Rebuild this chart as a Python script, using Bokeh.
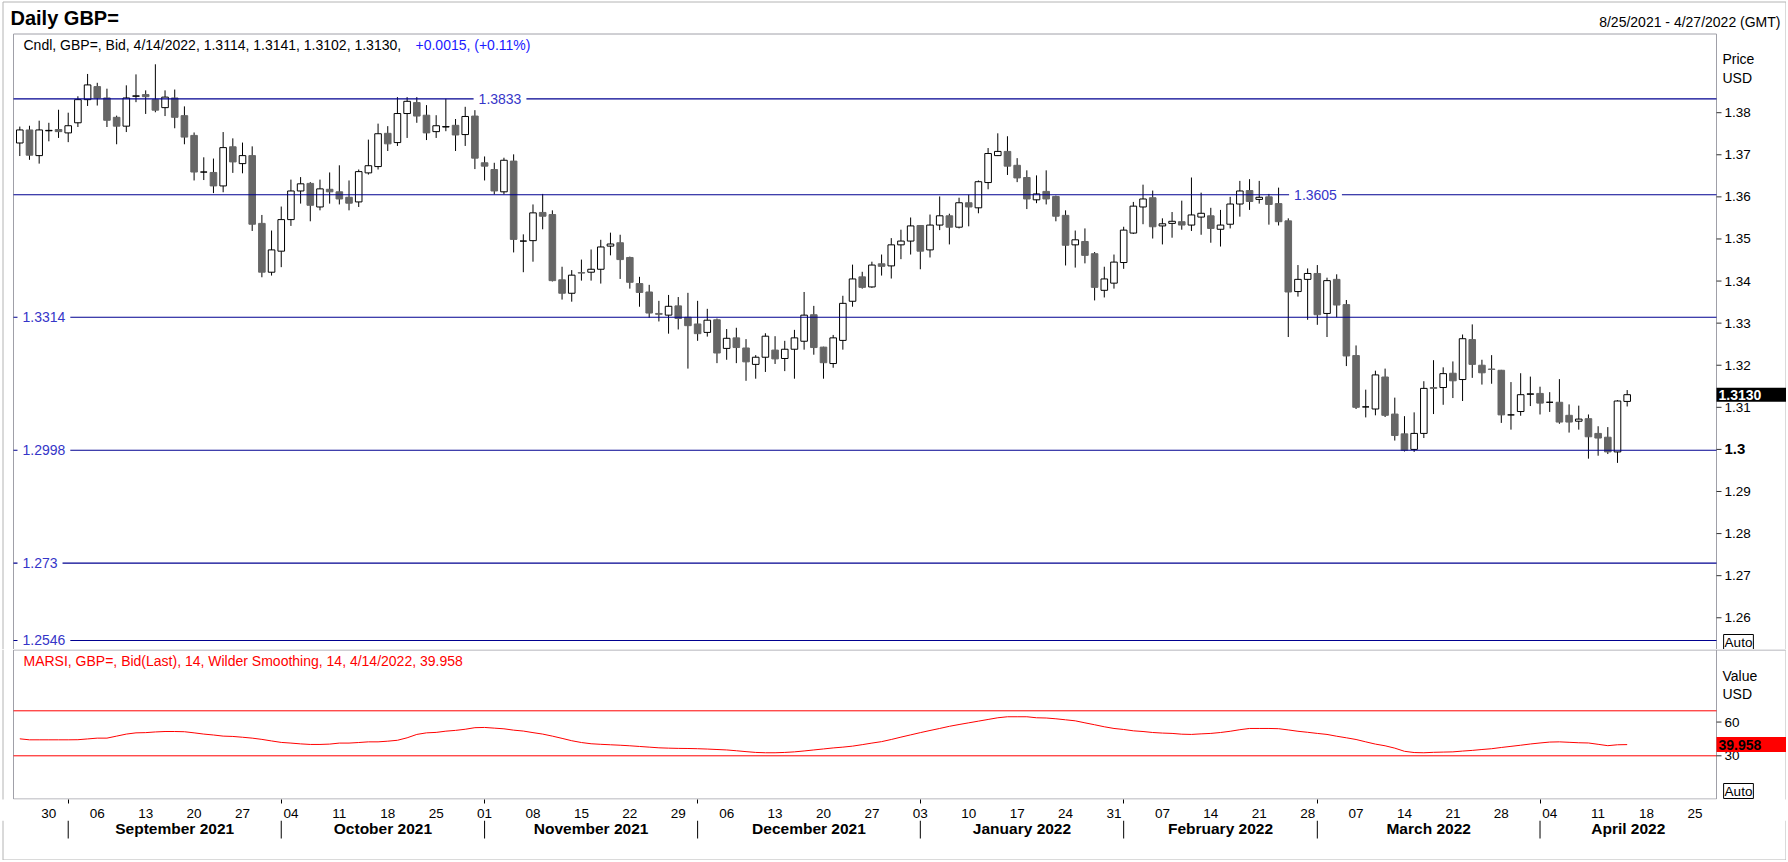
import numpy as np
import pandas as pd
from bokeh.plotting import figure
from bokeh.models import Range1d, Label, FixedTicker, ColumnDataSource
from bokeh.layouts import column
from bokeh.embed import file_html
from bokeh.resources import INLINE
from bokeh.core.properties import value

FONT = "Liberation Sans"

# ---------------- data ----------------
dates = pd.bdate_range("2021-08-25", "2022-04-14")       # trading days with candles
axis_dates = pd.bdate_range("2021-08-25", "2022-04-27")  # chart window

open_ = [
    1.3728, 1.3759, 1.3698, 1.3757, 1.3760, 1.3752, 1.3776, 1.3831, 1.3862, 1.3835,
    1.3789, 1.3768, 1.3839, 1.3843, 1.3831, 1.3812, 1.3835, 1.3793, 1.3746, 1.3659,
    1.3658, 1.3626, 1.3719, 1.3679, 1.3698, 1.3537, 1.3421, 1.3471, 1.3546, 1.3614,
    1.3632, 1.3576, 1.3618, 1.3612, 1.3599, 1.3588, 1.3657, 1.3672, 1.3751, 1.3729,
    1.3798, 1.3824, 1.3794, 1.3755, 1.3766, 1.3770, 1.3748, 1.3792, 1.3681, 1.3665,
    1.3612, 1.3685, 1.3495, 1.3496, 1.3563, 1.3558, 1.3403, 1.3371, 1.3420, 1.3421,
    1.3428, 1.3483, 1.3491, 1.3456, 1.3394, 1.3374, 1.3323, 1.3319, 1.3341, 1.3314,
    1.3298, 1.3278, 1.3308, 1.3240, 1.3265, 1.3241, 1.3202, 1.3219, 1.3236, 1.3216,
    1.3238, 1.3257, 1.3320, 1.3243, 1.3204, 1.3259, 1.3352, 1.3410, 1.3386, 1.3441,
    1.3436, 1.3486, 1.3495, 1.3532, 1.3474, 1.3533, 1.3555, 1.3528, 1.3586, 1.3574,
    1.3634, 1.3698, 1.3708, 1.3675, 1.3646, 1.3593, 1.3613, 1.3601, 1.3556, 1.3486,
    1.3494, 1.3465, 1.3378, 1.3395, 1.3444, 1.3514, 1.3576, 1.3598, 1.3531, 1.3537,
    1.3541, 1.3533, 1.3552, 1.3555, 1.3523, 1.3535, 1.3583, 1.3615, 1.3594, 1.3600,
    1.3584, 1.3543, 1.3375, 1.3404, 1.3418, 1.3323, 1.3404, 1.3344, 1.3223, 1.3101,
    1.3096, 1.3172, 1.3084, 1.3037, 1.3000, 1.3038, 1.3147, 1.3147, 1.3181, 1.3166,
    1.3261, 1.3200, 1.3191, 1.3188, 1.3082, 1.3090, 1.3131, 1.3133, 1.3112, 1.3112,
    1.3081, 1.3067, 1.3073, 1.3038, 1.3029, 1.2994, 1.3114,
]
high = [
    1.3767, 1.3769, 1.3781, 1.3776, 1.3807, 1.3800, 1.3839, 1.3892, 1.3871, 1.3857,
    1.3793, 1.3865, 1.3891, 1.3853, 1.3915, 1.3853, 1.3855, 1.3815, 1.3753, 1.3694,
    1.3691, 1.3754, 1.3739, 1.3729, 1.3720, 1.3557, 1.3520, 1.3577, 1.3641, 1.3647,
    1.3635, 1.3641, 1.3658, 1.3675, 1.3639, 1.3665, 1.3736, 1.3774, 1.3768, 1.3837,
    1.3837, 1.3837, 1.3818, 1.3794, 1.3833, 1.3785, 1.3814, 1.3806, 1.3696, 1.3681,
    1.3693, 1.3701, 1.3511, 1.3582, 1.3607, 1.3568, 1.3434, 1.3426, 1.3451, 1.3475,
    1.3498, 1.3515, 1.3510, 1.3458, 1.3410, 1.3391, 1.3353, 1.3367, 1.3362, 1.3372,
    1.3353, 1.3334, 1.3311, 1.3286, 1.3289, 1.3262, 1.3224, 1.3276, 1.3269, 1.3258,
    1.3284, 1.3374, 1.3341, 1.3244, 1.3272, 1.3365, 1.3439, 1.3422, 1.3446, 1.3463,
    1.3502, 1.3522, 1.3551, 1.3533, 1.3558, 1.3601, 1.3560, 1.3598, 1.3605, 1.3639,
    1.3716, 1.3751, 1.3744, 1.3692, 1.3663, 1.3651, 1.3663, 1.3603, 1.3568, 1.3520,
    1.3525, 1.3469, 1.3434, 1.3463, 1.3529, 1.3588, 1.3629, 1.3615, 1.3549, 1.3564,
    1.3591, 1.3646, 1.3610, 1.3574, 1.3569, 1.3600, 1.3638, 1.3642, 1.3638, 1.3607,
    1.3622, 1.3549, 1.3438, 1.3430, 1.3438, 1.3408, 1.3416, 1.3355, 1.3247, 1.3142,
    1.3187, 1.3192, 1.3123, 1.3079, 1.3088, 1.3162, 1.3212, 1.3195, 1.3209, 1.3273,
    1.3297, 1.3213, 1.3224, 1.3189, 1.3160, 1.3181, 1.3173, 1.3149, 1.3136, 1.3167,
    1.3107, 1.3104, 1.3083, 1.3055, 1.3053, 1.3117, 1.3141,
]
low = [
    1.3697, 1.3688, 1.3679, 1.3732, 1.3740, 1.3730, 1.3766, 1.3816, 1.3817, 1.3766,
    1.3725, 1.3754, 1.3825, 1.3797, 1.3801, 1.3792, 1.3763, 1.3725, 1.3639, 1.3640,
    1.3609, 1.3611, 1.3657, 1.3656, 1.3519, 1.3409, 1.3413, 1.3433, 1.3531, 1.3584,
    1.3542, 1.3568, 1.3584, 1.3582, 1.3568, 1.3576, 1.3653, 1.3665, 1.3709, 1.3721,
    1.3740, 1.3776, 1.3735, 1.3740, 1.3756, 1.3709, 1.3721, 1.3666, 1.3639, 1.3606,
    1.3606, 1.3468, 1.3421, 1.3446, 1.3523, 1.3399, 1.3356, 1.3351, 1.3401, 1.3401,
    1.3394, 1.3461, 1.3405, 1.3382, 1.3339, 1.3313, 1.3304, 1.3275, 1.3285, 1.3192,
    1.3258, 1.3268, 1.3205, 1.3213, 1.3205, 1.3163, 1.3168, 1.3184, 1.3203, 1.3186,
    1.3168, 1.3237, 1.3225, 1.3168, 1.3194, 1.3237, 1.3339, 1.3382, 1.3384, 1.3413,
    1.3406, 1.3452, 1.3463, 1.3428, 1.3456, 1.3521, 1.3487, 1.3525, 1.3530, 1.3561,
    1.3618, 1.3697, 1.3652, 1.3635, 1.3571, 1.3585, 1.3582, 1.3542, 1.3437, 1.3432,
    1.3442, 1.3354, 1.3361, 1.3382, 1.3429, 1.3512, 1.3535, 1.3501, 1.3487, 1.3503,
    1.3522, 1.3519, 1.3510, 1.3491, 1.3482, 1.3525, 1.3553, 1.3569, 1.3584, 1.3534,
    1.3532, 1.3267, 1.3363, 1.3308, 1.3296, 1.3267, 1.3314, 1.3198, 1.3096, 1.3076,
    1.3081, 1.3077, 1.3021, 1.2995, 1.2994, 1.3027, 1.3084, 1.3106, 1.3122, 1.3115,
    1.3170, 1.3154, 1.3156, 1.3063, 1.3047, 1.3080, 1.3103, 1.3083, 1.3089, 1.3061,
    1.3040, 1.3047, 1.2978, 1.2985, 1.2989, 1.2968, 1.3102,
]
close = [
    1.3759, 1.3699, 1.3759, 1.3758, 1.3755, 1.3769, 1.3831, 1.3866, 1.3835, 1.3782,
    1.3768, 1.3835, 1.3840, 1.3838, 1.3806, 1.3837, 1.3789, 1.3742, 1.3659, 1.3659,
    1.3626, 1.3717, 1.3683, 1.3698, 1.3535, 1.3421, 1.3474, 1.3546, 1.3614, 1.3631,
    1.3580, 1.3619, 1.3612, 1.3595, 1.3585, 1.3660, 1.3674, 1.3750, 1.3726, 1.3798,
    1.3827, 1.3792, 1.3752, 1.3769, 1.3767, 1.3747, 1.3791, 1.3692, 1.3673, 1.3614,
    1.3687, 1.3499, 1.3495, 1.3562, 1.3554, 1.3401, 1.3371, 1.3414, 1.3419, 1.3428,
    1.3481, 1.3488, 1.3451, 1.3397, 1.3373, 1.3324, 1.3321, 1.3340, 1.3311, 1.3294,
    1.3275, 1.3307, 1.3229, 1.3264, 1.3242, 1.3208, 1.3219, 1.3269, 1.3215, 1.3238,
    1.3265, 1.3319, 1.3242, 1.3206, 1.3265, 1.3347, 1.3405, 1.3385, 1.3438, 1.3435,
    1.3486, 1.3495, 1.3531, 1.3471, 1.3533, 1.3555, 1.3528, 1.3586, 1.3576, 1.3636,
    1.3703, 1.3708, 1.3673, 1.3645, 1.3595, 1.3607, 1.3595, 1.3554, 1.3485, 1.3498,
    1.3461, 1.3385, 1.3405, 1.3445, 1.3521, 1.3578, 1.3595, 1.3529, 1.3536, 1.3542,
    1.3533, 1.3557, 1.3561, 1.3525, 1.3533, 1.3583, 1.3614, 1.3589, 1.3599, 1.3582,
    1.3541, 1.3374, 1.3404, 1.3418, 1.3320, 1.3401, 1.3343, 1.3222, 1.3100, 1.3101,
    1.3177, 1.3081, 1.3033, 1.2998, 1.3038, 1.3145, 1.3145, 1.3180, 1.3163, 1.3263,
    1.3202, 1.3182, 1.3190, 1.3082, 1.3082, 1.3130, 1.3132, 1.3110, 1.3112, 1.3065,
    1.3065, 1.3072, 1.3030, 1.3027, 1.2994, 1.3115, 1.3130,
]
rsi = [
    45.1, 44.2, 44.2, 44.2, 44.2, 44.2, 44.3, 45.0, 45.7, 45.7,
    47.5, 49.3, 50.4, 50.6, 51.2, 51.6, 51.6, 51.4, 50.4, 49.3,
    48.5, 47.5, 47.2, 46.5, 45.7, 44.6, 43.2, 41.9, 41.3, 40.6,
    40.1, 40.1, 40.4, 41.3, 41.3, 41.8, 42.4, 42.4, 43.0, 43.8,
    46.0, 49.0, 50.4, 50.8, 51.9, 52.6, 53.6, 55.0, 55.2, 54.6,
    54.0, 52.8, 52.0, 50.6, 49.3, 47.5, 45.5, 43.4, 41.8, 40.7,
    40.2, 39.8, 39.4, 38.9, 38.3, 37.7, 37.1, 36.8, 36.6, 36.5,
    36.3, 36.0, 35.6, 35.2, 34.5, 33.7, 33.0, 32.7, 32.7, 33.0,
    33.5, 34.3, 35.2, 36.1, 37.0, 37.7, 38.6, 39.9, 41.3, 42.6,
    44.5, 46.6, 48.6, 50.6, 52.5, 54.3, 56.2, 57.8, 59.3, 60.8,
    62.3, 63.8, 64.7, 64.7, 64.7, 63.8, 63.6, 62.9, 62.0, 61.1,
    59.3, 57.6, 55.8, 54.3, 53.4, 52.2, 51.6, 50.7, 50.2, 49.9,
    49.2, 49.0, 49.5, 49.9, 50.7, 51.8, 53.2, 54.3, 54.3, 54.3,
    54.1, 53.0, 51.8, 50.9, 49.9, 49.0, 47.4, 46.0, 44.5, 42.4,
    40.4, 38.9, 36.8, 34.0, 32.9, 32.7, 33.1, 33.3, 33.5, 34.2,
    34.8, 35.6, 36.3, 37.4, 38.4, 39.4, 40.5, 41.4, 42.2, 42.4,
    42.0, 41.6, 41.4, 40.2, 39.0, 39.8, 39.958,
]
levels = [1.3833, 1.3605, 1.3314, 1.2998, 1.273, 1.2546]
level_text = ["1.3833", "1.3605", "1.3314", "1.2998", "1.273", "1.2546"]
price_ticks = [1.26, 1.27, 1.28, 1.29, 1.30, 1.31, 1.32, 1.33, 1.34, 1.35, 1.36, 1.37, 1.38]
rsi_ticks = [30, 60]
rsi_bands = [70, 30]

# ---------------- layout helpers (reference pixel -> data) ----------------
W = 1786
PX_PRICE = 4209.0   # pixels per price unit
PX_RSI = 1.125      # pixels per RSI unit


def xr(px):
    return (px - 19.3) / 9.683


def py(px):
    return 1.3833 + (98.3 - px) / PX_PRICE


def ry(px):
    return 30 + (755.3 - px) / PX_RSI


XL, XR = xr(13), xr(1716)
OUTLINE = "#a0a0a8"
BORDER = "#b4b4b4"
LEVEL_LINE = "#000090"
LEVEL_TEXT = "#3535c8"
TICK = "#303030"


def base_fig(height, y_range, **kw):
    p = figure(width=W, height=height, x_range=xrange, y_range=y_range,
               output_backend="svg", toolbar_location=None, tools="",
               y_axis_location=None, min_border_left=0, min_border_right=0,
               min_border_top=0, **kw)
    p.grid.visible = False
    p.outline_line_color = None
    p.background_fill_color = "white"
    p.border_fill_color = "white"
    return p


def lab(p, x, y, text, size="14px", color="black", bold=False, align="left",
        baseline="middle", **kw):
    l = Label(x=x, y=y, text=text, text_font=FONT, text_font_size=size,
              text_color=color, text_font_style="bold" if bold else "normal",
              text_align=align, text_baseline=baseline, **kw)
    p.add_layout(l)
    return l


def tfont(p, xs, ys, texts, size="13.5px", color="black", **kw):
    p.text(x=xs, y=ys, text=texts, text_font=value(FONT), text_font_size=size,
           text_baseline="middle", text_color=color, **kw)


xrange = Range1d(xr(0), xr(W))

x = list(range(len(dates)))
up = [c >= o for o, c in zip(open_, close)]
src = ColumnDataSource(dict(
    x=x, h=high, l=low,
    top=[max(o, c) for o, c in zip(open_, close)],
    bot=[min(o, c) for o, c in zip(open_, close)],
    fill=["white" if u else "#666666" for u in up],
    line=["black" if u else "#666666" for u in up],
))

# ---------------- price pane ----------------
p1 = base_fig(649, Range1d(py(649), py(0)), x_axis_location=None, min_border_bottom=0)

# outer page border and chart frame
p1.segment(x0=[xr(2.5), xr(2.5), xr(1785.5)], y0=[py(1.5), py(1.5), py(1.5)],
           x1=[xr(2.5), xr(1785.5), xr(1785.5)], y1=[py(649), py(1.5), py(649)],
           line_color=BORDER, line_width=1)
p1.segment(x0=[XL, XL, XR], y0=[py(33.5), py(33.5), py(33.5)], x1=[XL, XR, XR],
           y1=[py(649), py(33.5), py(649)], line_color=OUTLINE, line_width=1)

# candles
p1.segment(x0="x", y0="l", x1="x", y1="h", line_color="black", line_width=1, source=src)
p1.vbar(x="x", width=0.68, top="top", bottom="bot", fill_color="fill",
        line_color="line", line_width=1, source=src)

# horizontal levels
p1.segment(x0=[XL] * len(levels), y0=levels, x1=[XR] * len(levels), y1=levels,
           line_color=LEVEL_LINE, line_width=1.2)
level_pos = [xr(499.5), xr(1315), xr(17), xr(17), xr(17), xr(17)]
for lv, txt, lx in zip(levels, level_text, level_pos):
    lab(p1, lx, lv, txt, size="14px", color=LEVEL_TEXT,
        align="center" if lx > 10 else "left",
        background_fill_color="white",
        padding=dict(left=5, right=5, top=0, bottom=0))

# price scale (right)
p1.segment(x0=[XR] * len(price_ticks), y0=price_ticks, x1=[xr(1721)] * len(price_ticks),
           y1=price_ticks, line_color=TICK, line_width=1)
plain = [t for t in price_ticks if abs(t - 1.30) > 1e-9]
tfont(p1, [xr(1724)] * len(plain), plain, [f"{t:.2f}" for t in plain])
tfont(p1, [xr(1724)], [1.30], ["1.3"], size="15px", text_font_style="bold")

# last price tag
last_c = close[-1]
half_p = 7.0 / PX_PRICE
p1.quad(left=[XR], right=[xr(1790)], bottom=[last_c - half_p], top=[last_c + half_p],
        fill_color="black", line_color=None)
tfont(p1, [xr(1718)], [last_c], [f"{last_c:.4f}"], size="14px", color="white",
      text_font_style="bold")

# texts
lab(p1, xr(10), py(17), "Daily GBP=", size="20px", bold=True)
lab(p1, xr(1780), py(21), "8/25/2021 - 4/27/2022 (GMT)", size="14px", align="right")
lab(p1, xr(23), py(44.5), "Cndl, GBP=, Bid, 4/14/2022, 1.3114, 1.3141, 1.3102, 1.3130,", size="14px")
lab(p1, xr(415), py(44.5), "+0.0015, (+0.11%)", size="14px", color="#1a1aff")
lab(p1, xr(1722), py(58.5), "Price", size="14px")
lab(p1, xr(1722), py(77), "USD", size="14px")
lab(p1, xr(1738), py(641.5), "Auto", size="13.5px", align="center",
    background_fill_color="white", border_line_color="black",
    padding=dict(left=1, right=1, top=0, bottom=0))

# ---------------- RSI pane ----------------
p2 = base_fig(171, Range1d(ry(799), ry(649)), x_axis_location="below", min_border_bottom=21)

p2.segment(x0=[xr(2.5), xr(1785.5)], y0=[ry(649), ry(649)], x1=[xr(2.5), xr(1785.5)],
           y1=[ry(820), ry(820)], line_color=BORDER, line_width=1)
p2.segment(x0=[XL, XL, XR, XL], y0=[ry(649.5), ry(649.5), ry(649.5), ry(798.5)],
           x1=[xr(1785), XL, XR, XR], y1=[ry(649.5), ry(798.5), ry(798.5), ry(798.5)],
           line_color=OUTLINE, line_width=1)

p2.segment(x0=[XL] * 2, y0=rsi_bands, x1=[XR] * 2, y1=rsi_bands, line_color="#ff0000", line_width=1)
p2.line(x=list(range(len(rsi))), y=rsi, line_color="#ff0000", line_width=1)

p2.segment(x0=[XR] * len(rsi_ticks), y0=rsi_ticks, x1=[xr(1721)] * len(rsi_ticks),
           y1=rsi_ticks, line_color=TICK, line_width=1)
tfont(p2, [xr(1724)] * len(rsi_ticks), rsi_ticks, [str(t) for t in rsi_ticks])

# last value tag
last_r = rsi[-1]
half_r = 7.5 / PX_RSI
p2.quad(left=[XR], right=[xr(1790)], bottom=[last_r - half_r], top=[last_r + half_r],
        fill_color="#ff0000", line_color=None)
tfont(p2, [xr(1718)], [last_r], [f"{last_r:.3f}"], size="14px", color="black",
      text_font_style="bold")

lab(p2, xr(23), ry(660), "MARSI, GBP=, Bid(Last),  14, Wilder Smoothing, 14, 4/14/2022, 39.958",
    size="14px", color="#ff0000")
lab(p2, xr(1722), ry(675.5), "Value", size="14px")
lab(p2, xr(1722), ry(693), "USD", size="14px")
lab(p2, xr(1738), ry(790.5), "Auto", size="13.5px", align="center",
    background_fill_color="white", border_line_color="black",
    padding=dict(left=1, right=1, top=0, bottom=0))

# date axis (weekly day labels, month boundary ticks)
mondays = [i for i, d in enumerate(axis_dates) if d.weekday() == 0]
month_starts = [i for i in range(1, len(axis_dates)) if axis_dates[i].month != axis_dates[i - 1].month]
axx = p2.xaxis[0]
axx.ticker = FixedTicker(ticks=mondays, minor_ticks=month_starts)
axx.major_label_overrides = {i: axis_dates[i].strftime("%d") for i in mondays}
axx.axis_line_color = None
axx.major_tick_out = 0
axx.major_tick_in = 0
axx.major_tick_line_color = None
axx.minor_tick_out = 4
axx.minor_tick_in = 0
axx.minor_tick_line_color = "black"
axx.major_label_standoff = 5
axx.major_label_text_font = FONT
axx.major_label_text_font_size = "13.5px"
axx.major_label_text_color = "black"

# ---------------- month row ----------------
p3 = base_fig(40, Range1d(0, 40), x_axis_location=None, min_border_bottom=0)
p3.segment(x0=[xr(2.5), xr(1785.5), xr(2.5)], y0=[0, 0, 0.5], x1=[xr(2.5), xr(1785.5), xr(1785.5)],
           y1=[40, 40, 0.5], line_color=BORDER, line_width=1)

bounds = month_starts + [XR]
month_centers = [(bounds[k] + bounds[k + 1]) / 2 for k in range(len(month_starts))]
month_names = [axis_dates[i].strftime("%B %Y") for i in month_starts]
p3.segment(x0=month_starts, y0=22, x1=month_starts, y1=40, line_color="black", line_width=1)
p3.text(x=month_centers, y=32, text=month_names, text_align="center", text_baseline="middle",
        text_font=value(FONT), text_font_style="bold", text_font_size="15.5px", text_color="black")

layout = column(p1, p2, p3, spacing=0)
open("out.html", "w").write(file_html(layout, INLINE))
